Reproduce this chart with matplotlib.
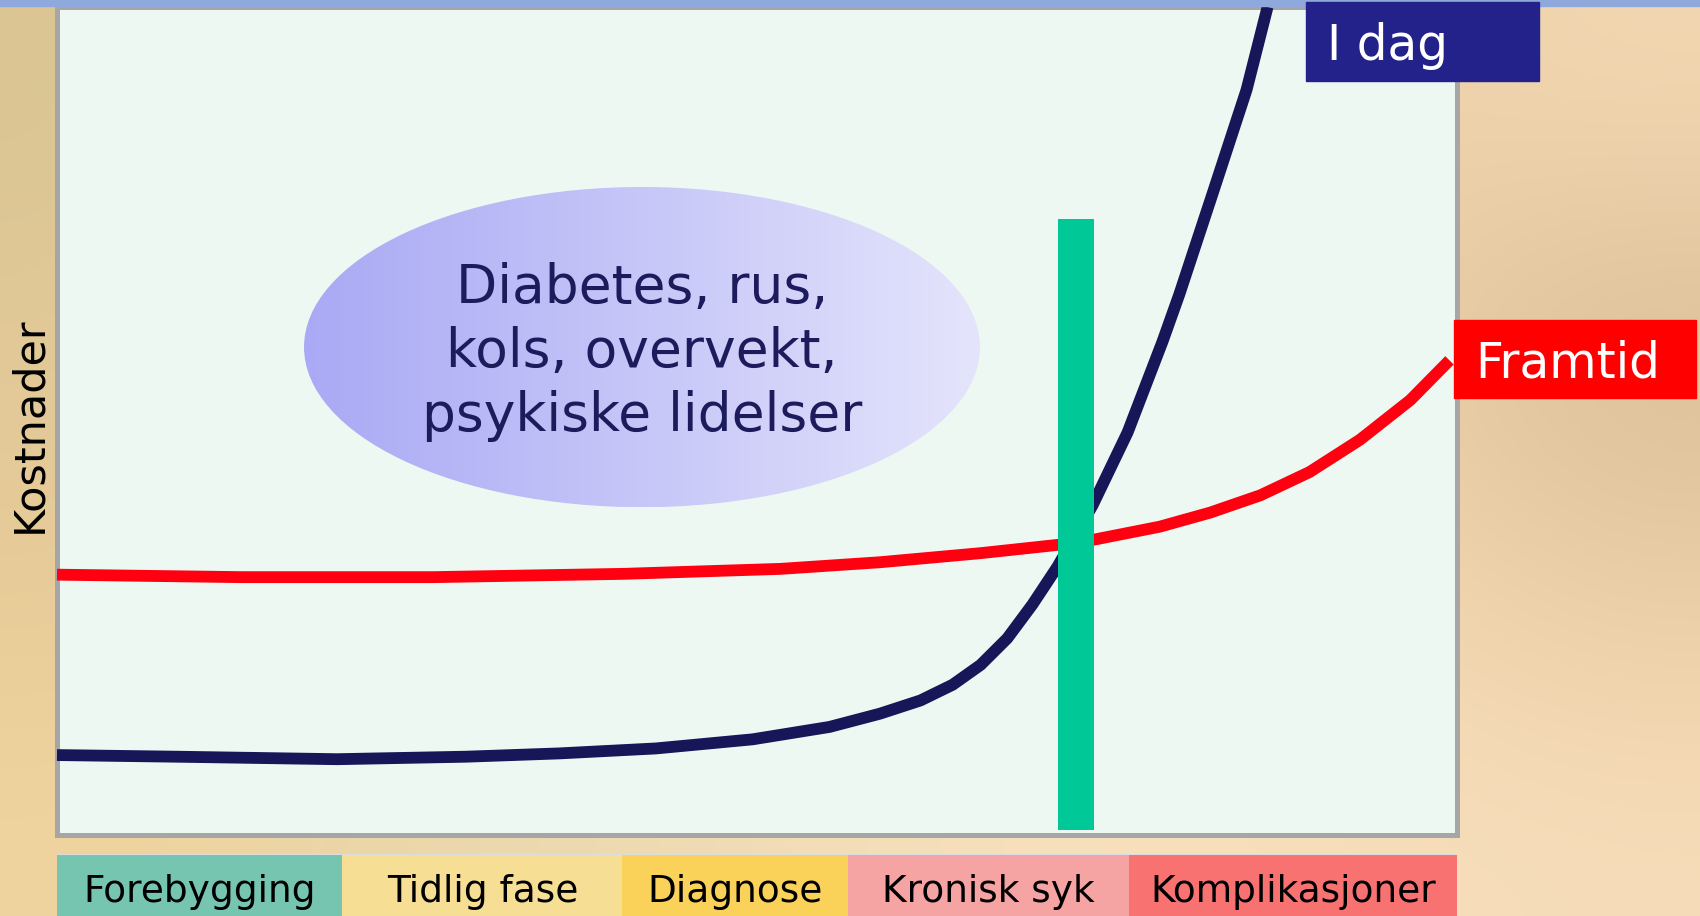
import numpy as np
import matplotlib
matplotlib.use("Agg")
import matplotlib.pyplot as plt
from matplotlib.patches import Ellipse, Rectangle
from matplotlib.colors import LinearSegmentedColormap, to_rgb

W, H = 1700, 916

# stages along the bottom (x in % of the time axis)
stages = ["Forebygging", "Tidlig fase", "Diagnose", "Kronisk syk", "Komplikasjoner"]
stage_edges = [0.0, 20.4, 40.4, 56.5, 76.6, 100.1]
stage_colors = ["#76c5b0", "#f6de94", "#fad25a", "#f5a3a3", "#f87272"]

# cost curves (0-100 scale)
red_x = [0.0, 13.2, 26.9, 40.5, 51.7, 58.8, 66.0, 71.5, 74.0, 78.8, 82.4, 86.0,
         89.5, 93.1, 96.7, 99.5]
red_y = [31.4, 31.1, 31.1, 31.5, 32.1, 32.9, 34.0, 35.0, 35.6, 37.2, 38.9, 41.0,
         43.8, 47.7, 52.5, 57.3]

navy_x = [0.0, 8.6, 20.0, 29.2, 35.9, 42.8, 49.7, 55.2, 58.8, 61.7, 64.0, 66.0,
          67.9, 69.7, 71.5, 74.0, 76.5, 79.0, 80.2, 82.6, 85.0, 86.5]
navy_y = [9.6, 9.4, 9.1, 9.4, 9.8, 10.4, 11.5, 13.0, 14.6, 16.2, 18.1, 20.5,
          23.7, 27.8, 32.4, 39.8, 48.6, 59.6, 65.3, 77.6, 90.0, 100.0]

# green marker bar
marker_x = 72.8
marker_bottom = 0.5
marker_top = 74.4

ellipse_text = "Diabetes, rus,\nkols, overvekt,\npsykiske lidelser"

fig = plt.figure(figsize=(W / 100, H / 100), dpi=100)
fig.patch.set_facecolor("#f0d8ac")

# soft parchment-like background
bg = fig.add_axes([0, 0, 1, 1], zorder=-10)
tex = np.array([
    ["#d9c592", "#e9d3a8", "#ecd6ae", "#f0d9b2", "#e8cfa6", "#f3d7b2"],
    ["#e2c897", "#ead2a4", "#f1dbb3", "#f4dbb6", "#f5d8b0", "#d9bd98"],
    ["#e6cb98", "#efd6a8", "#f3dcb2", "#f6ddb8", "#f6dcb6", "#e8cca4"],
    ["#f0d49e", "#e9d7ac", "#efdcb4", "#f7e0bc", "#f8e0bd", "#f6dcb8"],
])
rgb = np.array([[to_rgb(c) for c in row] for row in tex])
bg.imshow(rgb, extent=[0, 1, 0, 1], aspect="auto", interpolation="bicubic")
bg.set_axis_off()

# main panel
x0, x1 = 57, 1456.5
y_bot, y_top = 834.5, 7
ax = fig.add_axes([x0 / W, (H - y_bot) / H, (x1 - x0) / W, (y_bot - y_top) / H])
ax.set_facecolor("#eef8f2")
for s in ax.spines.values():
    s.set_color("#a6a6a6")
    s.set_linewidth(3.6)
ax.set_xticks([])
ax.set_yticks([])

# gradient ellipse
cx, cy, ew, eh = 41.8, 58.9, 48.3, 38.7
ell = Ellipse((cx, cy), ew, eh, facecolor="none", edgecolor="none")
ax.add_patch(ell)
cmap = LinearSegmentedColormap.from_list("ell", ["#a9a9f5", "#e4e4fc"])
grad = np.linspace(0, 1, 256).reshape(1, -1)
im = ax.imshow(grad, extent=[cx - ew / 2, cx + ew / 2, cy - eh / 2, cy + eh / 2],
               aspect="auto", cmap=cmap, zorder=1)
im.set_clip_path(ell)
ax.text(cx, 58.3, ellipse_text, ha="center", va="center", fontsize=38.5,
        color="#1c1c5c", linespacing=1.3, zorder=2)

ax.plot(red_x, red_y, color="#ff0011", lw=8.5, solid_capstyle="butt",
        solid_joinstyle="round", zorder=3, clip_on=False)
ax.plot(navy_x, navy_y, color="#161658", lw=8.5, solid_capstyle="butt",
        solid_joinstyle="round", zorder=3, clip_on=False)
ax.bar(marker_x, marker_top - marker_bottom, bottom=marker_bottom, width=2.6,
       color="#00c896", zorder=4)

ax.set_xlim(0, 100)
ax.set_ylim(0, 100)

# stage boxes
ax2 = fig.add_axes([x0 / W, 0, (x1 - x0) / W, 62 / H])
widths = np.diff(stage_edges)
ax2.bar(stage_edges[:-1], 1, width=widths, align="edge", color=stage_colors)
for i, name in enumerate(stages):
    mid = stage_edges[i] + widths[i] / 2
    ax2.text(mid, 0.226, name, ha="center", va="baseline", fontsize=27, color="black")
ax2.axhline(1, color="#dcdcdc", lw=1.5)
ax2.set_xlim(0, 100)
ax2.set_ylim(0, 1)
ax2.set_axis_off()

# top strip
fig.add_artist(Rectangle((0, (H - 6) / H), 1, 6 / H, transform=fig.transFigure,
                         color="#8fa9dc", zorder=5))

# labels at the curve ends
fig.add_artist(Rectangle((1306 / W, (H - 81) / H), 233 / W, 79 / H,
                         transform=fig.transFigure, color="#22228a", zorder=6))
fig.text(1327 / W, (H - 60) / H, "I dag", fontsize=35, color="white",
         ha="left", va="baseline", zorder=7)

fig.add_artist(Rectangle((1454 / W, (H - 398) / H), 242 / W, 78 / H,
                         transform=fig.transFigure, color="#ff0000", zorder=6))
fig.text(1475 / W, (H - 377) / H, "Framtid", fontsize=35, color="white",
         ha="left", va="baseline", zorder=7)

fig.text(29 / W, (H - 425) / H, "Kostnader", rotation=90, fontsize=31,
         ha="center", va="center", color="black")

fig.savefig("out.png", dpi=100, facecolor=fig.get_facecolor())
